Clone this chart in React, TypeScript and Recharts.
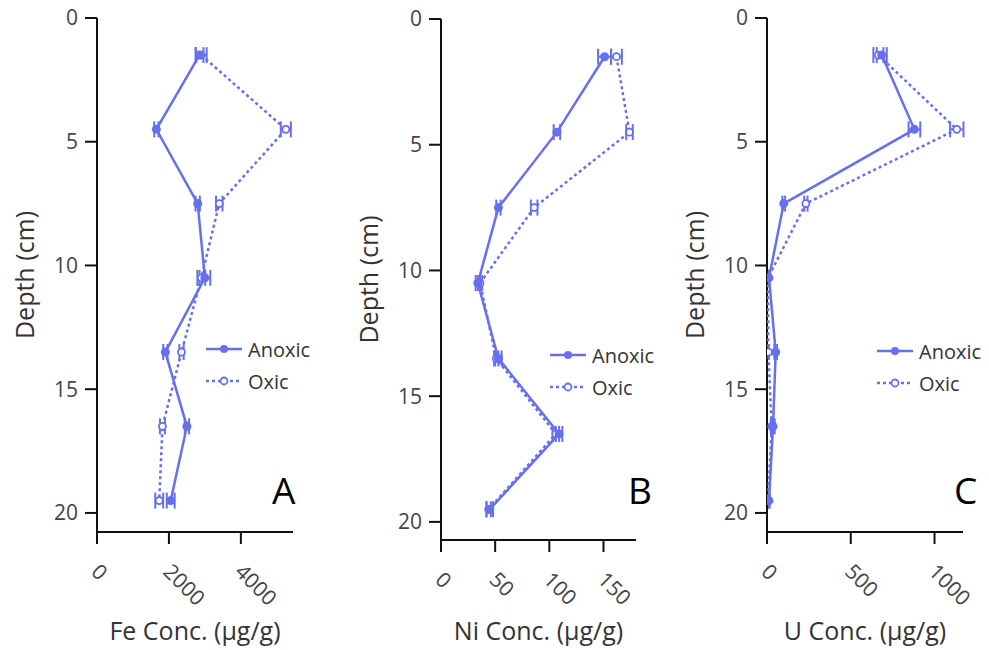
import React from "react";
import { ScatterChart, Scatter, XAxis, YAxis, ErrorBar, Label } from "recharts";

const depths = [1.5, 4.5, 7.5, 10.5, 13.5, 16.5, 19.5];

const feAnoxic = [2850, 1650, 2800, 3000, 1900, 2500, 2050];
const feAnoxicErr = [110, 60, 60, 150, 60, 60, 110];
const feOxic = [2900, 5250, 3400, 2900, 2350, 1820, 1730];
const feOxicErr = [150, 140, 90, 110, 60, 70, 110];

const niAnoxic = [151, 107, 53, 34, 53, 109, 45];
const niAnoxicErr = [6, 3, 2, 2, 3, 3, 3];
const niOxic = [162, 174, 86, 36, 51, 106, 44];
const niOxicErr = [5, 3, 3, 2, 2, 3, 2];

const uAnoxic = [685, 880, 100, 12, 52, 36, 12];
const uAnoxicErr = [30, 35, 8, 3, 8, 10, 4];
const uOxic = [665, 1133, 232, 6, 8, 28, 6];
const uOxicErr = [30, 40, 10, 3, 3, 5, 3];

const depthTicks = [0, 5, 10, 15, 20];
const feTicks = [0, 2000, 4000];
const niTicks = [0, 50, 100, 150];
const uTicks = [0, 500, 1000];

const BLUE = "#6670ee";
const FONT = "'Open Sans', 'Noto Sans', sans-serif";
const AXIS = { stroke: "#111", strokeWidth: 2 };

const RotTick = (props: any) => {
  const { x, y, payload } = props;
  const ax = x - 7;
  const ay = y + 29;
  return (
    <text
      x={ax}
      y={ay}
      transform={`rotate(45, ${ax}, ${ay})`}
      textAnchor="start"
      fontSize={21}
      fontFamily={FONT}
      fill="#444"
    >
      {payload.value}
    </text>
  );
};

const filledDot = (p: any) => <circle cx={p.cx} cy={p.cy} r={4.5} fill={BLUE} />;
const openDot = (p: any) => (
  <circle cx={p.cx} cy={p.cy} r={3.5} fill="#fff" stroke={BLUE} strokeWidth={1.8} />
);

interface PanelProps {
  left: number;
  width: number;
  axisX: number;
  plotRight: number;
  top: number;
  axisY: number;
  yMax: number;
  xMax: number;
  xTicks: number[];
  title: string;
  letter: string;
  letterX: number;
  legendX: number;
  legendY: number;
  anoxic: number[];
  anoxicErr: number[];
  oxic: number[];
  oxicErr: number[];
}

function Panel(p: PanelProps) {
  const anoxicData = depths.map((d, i) => ({ depth: d, conc: p.anoxic[i], err: p.anoxicErr[i] }));
  const oxicData = depths.map((d, i) => ({ depth: d, conc: p.oxic[i], err: p.oxicErr[i] }));

  const yTitle = (props: any) => {
    const vb = props.viewBox;
    const cx = vb.x + vb.width - 73;
    const cy = vb.y + vb.height / 2;
    return (
      <text
        x={cx}
        y={cy}
        transform={`rotate(-90, ${cx}, ${cy})`}
        textAnchor="middle"
        dominantBaseline="central"
        fontSize={25}
        fontFamily={FONT}
        fill="#333"
      >
        Depth (cm)
      </text>
    );
  };

  const xTitle = (props: any) => {
    const vb = props.viewBox;
    return (
      <text
        x={vb.x + vb.width / 2}
        y={640}
        textAnchor="middle"
        fontSize={25}
        fontFamily={FONT}
        fill="#333"
      >
        {p.title}
      </text>
    );
  };

  return (
    <div style={{ position: "absolute", left: p.left, top: 0, width: p.width, height: 650 }}>
      <ScatterChart
        width={p.width}
        height={650}
        margin={{ top: p.top, right: p.width - p.plotRight, bottom: 0, left: 0 }}
      >
        <XAxis
          type="number"
          dataKey="conc"
          domain={[0, p.xMax]}
          ticks={p.xTicks}
          interval={0}
          allowDataOverflow
          height={650 - p.axisY}
          tickSize={12}
          tickMargin={0}
          axisLine={AXIS}
          tickLine={AXIS}
          tick={<RotTick />}
        >
          <Label content={xTitle} />
        </XAxis>
        <YAxis
          type="number"
          dataKey="depth"
          reversed
          domain={[0, p.yMax]}
          ticks={depthTicks}
          interval={0}
          allowDataOverflow
          width={p.axisX}
          tickSize={12}
          tickMargin={7}
          axisLine={AXIS}
          tickLine={AXIS}
          tick={{ fontSize: 21, fontFamily: FONT, fill: "#444" }}
        >
          <Label content={yTitle} />
        </YAxis>
        <Scatter
          data={oxicData}
          fill={BLUE}
          line={{ stroke: BLUE, strokeWidth: 2.5, strokeDasharray: "3 3", fill: "none" }}
          lineType="joint"
          shape={openDot}
          isAnimationActive={false}
        >
          <ErrorBar dataKey="err" direction="x" width={8} stroke={BLUE} strokeWidth={2} />
        </Scatter>
        <Scatter
          data={anoxicData}
          fill={BLUE}
          line={{ stroke: BLUE, strokeWidth: 2.5, fill: "none" }}
          lineType="joint"
          shape={filledDot}
          isAnimationActive={false}
        >
          <ErrorBar dataKey="err" direction="x" width={8} stroke={BLUE} strokeWidth={2} />
        </Scatter>
      </ScatterChart>
      <svg
        width={p.width}
        height={650}
        style={{ position: "absolute", left: 0, top: 0, pointerEvents: "none" }}
      >
        <g fontFamily={FONT} fontSize={20} fill="#333">
          <line x1={p.legendX} x2={p.legendX + 36} y1={p.legendY} y2={p.legendY} stroke={BLUE} strokeWidth={2.5} />
          <circle cx={p.legendX + 18} cy={p.legendY} r={4} fill={BLUE} />
          <text x={p.legendX + 42} y={p.legendY} dominantBaseline="central">Anoxic</text>
          <line
            x1={p.legendX}
            x2={p.legendX + 36}
            y1={p.legendY + 32}
            y2={p.legendY + 32}
            stroke={BLUE}
            strokeWidth={2.5}
            strokeDasharray="3 3"
          />
          <circle cx={p.legendX + 18} cy={p.legendY + 32} r={3.5} fill="#fff" stroke={BLUE} strokeWidth={1.8} />
          <text x={p.legendX + 42} y={p.legendY + 32} dominantBaseline="central">Oxic</text>
        </g>
        <text x={p.letterX} y={504} fontFamily={FONT} fontSize={37} fill="#000">
          {p.letter}
        </text>
      </svg>
    </div>
  );
}

export default function App() {
  return (
    <div style={{ position: "absolute", left: 0, top: 0, width: 989, height: 650, background: "#fff" }}>
      <Panel
        left={0}
        width={330}
        axisX={97}
        plotRight={293}
        top={18}
        axisY={532}
        yMax={20.77}
        xMax={5450}
        xTicks={feTicks}
        title="Fe Conc. (µg/g)"
        letter="A"
        letterX={272}
        legendX={206}
        legendY={349}
        anoxic={feAnoxic}
        anoxicErr={feAnoxicErr}
        oxic={feOxic}
        oxicErr={feOxicErr}
      />
      <Panel
        left={330}
        width={330}
        axisX={111}
        plotRight={306}
        top={19}
        axisY={540}
        yMax={20.72}
        xMax={180}
        xTicks={niTicks}
        title="Ni Conc. (µg/g)"
        letter="B"
        letterX={298}
        legendX={220}
        legendY={355}
        anoxic={niAnoxic}
        anoxicErr={niAnoxicErr}
        oxic={niOxic}
        oxicErr={niOxicErr}
      />
      <Panel
        left={660}
        width={329}
        axisX={107}
        plotRight={303}
        top={18}
        axisY={532}
        yMax={20.77}
        xMax={1170}
        xTicks={uTicks}
        title="U Conc. (µg/g)"
        letter="C"
        letterX={294}
        legendX={217}
        legendY={351}
        anoxic={uAnoxic}
        anoxicErr={uAnoxicErr}
        oxic={uOxic}
        oxicErr={uOxicErr}
      />
    </div>
  );
}
